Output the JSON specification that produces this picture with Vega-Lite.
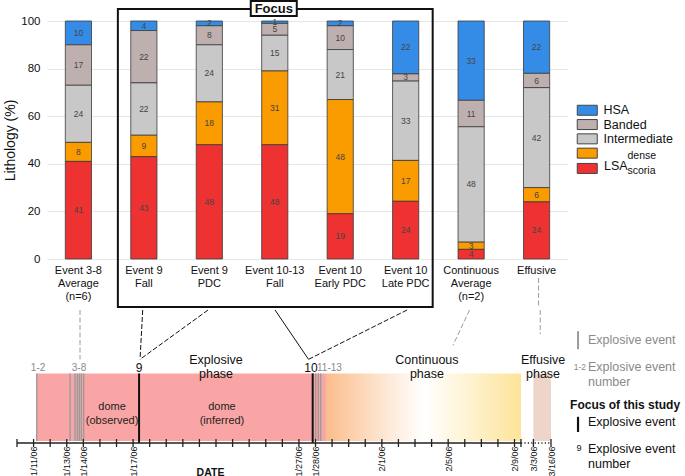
{
  "$schema": "https://vega.github.io/schema/vega-lite/v6.json",
  "background": "white",
  "padding": {"left": 3, "top": 0, "right": 0, "bottom": 0},
  "spacing": 0,
  "config": {"font": "Liberation Sans", "view": {"stroke": null}},
  "datasets": {
    "litho": [
      {"event": "Event 3-8|Average|(n=6)", "type": "HSA", "value": 10},
      {"event": "Event 3-8|Average|(n=6)", "type": "Banded", "value": 17},
      {"event": "Event 3-8|Average|(n=6)", "type": "Intermediate", "value": 24},
      {"event": "Event 3-8|Average|(n=6)", "type": "LSA dense", "value": 8},
      {"event": "Event 3-8|Average|(n=6)", "type": "LSA scoria", "value": 41},
      {"event": "Event 9|Fall", "type": "HSA", "value": 4},
      {"event": "Event 9|Fall", "type": "Banded", "value": 22},
      {"event": "Event 9|Fall", "type": "Intermediate", "value": 22},
      {"event": "Event 9|Fall", "type": "LSA dense", "value": 9},
      {"event": "Event 9|Fall", "type": "LSA scoria", "value": 43},
      {"event": "Event 9|PDC", "type": "HSA", "value": 2},
      {"event": "Event 9|PDC", "type": "Banded", "value": 8},
      {"event": "Event 9|PDC", "type": "Intermediate", "value": 24},
      {"event": "Event 9|PDC", "type": "LSA dense", "value": 18},
      {"event": "Event 9|PDC", "type": "LSA scoria", "value": 48},
      {"event": "Event 10-13|Fall", "type": "HSA", "value": 1},
      {"event": "Event 10-13|Fall", "type": "Banded", "value": 5},
      {"event": "Event 10-13|Fall", "type": "Intermediate", "value": 15},
      {"event": "Event 10-13|Fall", "type": "LSA dense", "value": 31},
      {"event": "Event 10-13|Fall", "type": "LSA scoria", "value": 48},
      {"event": "Event 10|Early PDC", "type": "HSA", "value": 2},
      {"event": "Event 10|Early PDC", "type": "Banded", "value": 10},
      {"event": "Event 10|Early PDC", "type": "Intermediate", "value": 21},
      {"event": "Event 10|Early PDC", "type": "LSA dense", "value": 48},
      {"event": "Event 10|Early PDC", "type": "LSA scoria", "value": 19},
      {"event": "Event 10|Late PDC", "type": "HSA", "value": 22},
      {"event": "Event 10|Late PDC", "type": "Banded", "value": 3},
      {"event": "Event 10|Late PDC", "type": "Intermediate", "value": 33},
      {"event": "Event 10|Late PDC", "type": "LSA dense", "value": 17},
      {"event": "Event 10|Late PDC", "type": "LSA scoria", "value": 24},
      {"event": "Continuous|Average|(n=2)", "type": "HSA", "value": 33},
      {"event": "Continuous|Average|(n=2)", "type": "Banded", "value": 11},
      {"event": "Continuous|Average|(n=2)", "type": "Intermediate", "value": 48},
      {"event": "Continuous|Average|(n=2)", "type": "LSA dense", "value": 3},
      {"event": "Continuous|Average|(n=2)", "type": "LSA scoria", "value": 4},
      {"event": "Effusive", "type": "HSA", "value": 22},
      {"event": "Effusive", "type": "Banded", "value": 6},
      {"event": "Effusive", "type": "Intermediate", "value": 42},
      {"event": "Effusive", "type": "LSA dense", "value": 6},
      {"event": "Effusive", "type": "LSA scoria", "value": 24}
    ]
  },
  "vconcat": [
    {
      "width": 521,
      "height": 238,
      "layer": [
        {
          "data": {"name": "litho"},
          "transform": [
            {"calculate": "indexof(['LSA scoria','LSA dense','Intermediate','Banded','HSA'], datum.type)", "as": "rank"},
            {"stack": "value", "groupby": ["event"], "sort": [{"field": "rank", "order": "ascending"}], "as": ["v0", "v1"], "offset": "normalize"},
            {"calculate": "(datum.v0 + datum.v1) / 2", "as": "vm"}
          ],
          "layer": [
            {
              "mark": {"type": "bar", "stroke": "#3a3a3a", "strokeWidth": 0.8},
              "encoding": {
                "x": {
                  "field": "event", "type": "nominal",
                  "scale": {"domain": ["Event 3-8|Average|(n=6)", "Event 9|Fall", "Event 9|PDC", "Event 10-13|Fall", "Event 10|Early PDC", "Event 10|Late PDC", "Continuous|Average|(n=2)", "Effusive"], "paddingInner": 0.6, "paddingOuter": 0.28},
                  "axis": {"title": null, "labelAngle": 0, "labelAlign": "center", "labelBaseline": "top", "labelExpr": "split(datum.label, '|')", "labelFontSize": 11, "labelLineHeight": 13, "labelPadding": 5, "labelColor": "#111111", "domain": false, "ticks": false, "grid": false, "labelOverlap": false}
                },
                "y": {
                  "field": "v0", "type": "quantitative",
                  "scale": {"domain": [0, 1], "nice": false, "zero": false},
                  "axis": {"title": "Lithology (%)", "titleFontSize": 14, "titleFontWeight": "normal", "titleColor": "#111111", "titlePadding": 3, "values": [0, 0.1, 0.2, 0.3, 0.4, 0.5, 0.6, 0.7, 0.8, 0.9, 1], "labelExpr": "round(datum.value * 100)", "labelFontSize": 11.5, "labelColor": "#111111", "labelPadding": 7, "labelOverlap": false, "labelFlush": false, "domain": false, "ticks": false, "grid": true, "gridColor": "#e6e6e6"}
                },
                "y2": {"field": "v1"},
                "color": {
                  "field": "type", "type": "nominal",
                  "scale": {"domain": ["HSA", "Banded", "Intermediate", "LSA dense", "LSA scoria"], "range": ["#358ce6", "#bfb0b0", "#c8c8c8", "#fa9b00", "#ee3232"]},
                  "legend": {
                    "orient": "none", "legendX": 534, "legendY": 83, "padding": 0,
                    "title": "LSA", "titleOrient": "bottom", "titleAnchor": "start", "titleAlign": "left", "titleFontSize": 12.5, "titleFontWeight": "normal", "titleColor": "#111111", "titlePadding": -17,
                    "labelFontSize": 12.5, "labelColor": "#111111", "labelOffset": 10,
                    "labelExpr": "datum.value === 'LSA dense' ? 'dense' : datum.value === 'LSA scoria' ? 'scoria' : datum.label",
                    "symbolType": "M-2,-1H2V1H-2Z", "symbolSize": 100, "symbolStrokeColor": "#444444", "symbolStrokeWidth": 1, "symbolOpacity": 1,
                    "rowPadding": -0.7,
                    "encode": {
                      "labels": {"update": {
                        "fontSize": {"signal": "datum.value === 'LSA dense' || datum.value === 'LSA scoria' ? 10.5 : 12.5"},
                        "dx": {"signal": "datum.value === 'LSA dense' || datum.value === 'LSA scoria' ? 24 : 0"},
                        "dy": {"signal": "datum.value === 'LSA dense' || datum.value === 'LSA scoria' ? 3 : 0"}
                      }},
                      "title": {"update": {"dx": {"value": 23}}}
                    }
                  }
                }
              }
            },
            {
              "mark": {"type": "text", "fontSize": 8.5, "color": "#444444"},
              "encoding": {
                "x": {"field": "event", "type": "nominal", "scale": {"domain": ["Event 3-8|Average|(n=6)", "Event 9|Fall", "Event 9|PDC", "Event 10-13|Fall", "Event 10|Early PDC", "Event 10|Late PDC", "Continuous|Average|(n=2)", "Effusive"], "paddingInner": 0.6, "paddingOuter": 0.28}},
                "y": {"field": "vm", "type": "quantitative", "scale": {"domain": [0, 1], "nice": false, "zero": false}},
                "text": {"field": "value", "type": "quantitative"}
              }
            }
          ]
        },
        {
          "data": {"values": [{"first": "Event 9|Fall", "last": "Event 10|Late PDC", "top": 1.0504, "bottom": -0.2017}]},
          "mark": {"type": "rect", "fill": "transparent", "stroke": "#111111", "strokeWidth": 2, "xOffset": -26, "x2Offset": 27},
          "encoding": {
            "x": {"field": "first", "type": "nominal", "bandPosition": 0.5, "scale": {"domain": ["Event 3-8|Average|(n=6)", "Event 9|Fall", "Event 9|PDC", "Event 10-13|Fall", "Event 10|Early PDC", "Event 10|Late PDC", "Continuous|Average|(n=2)", "Effusive"], "paddingInner": 0.6, "paddingOuter": 0.28}},
            "x2": {"field": "last"},
            "y": {"field": "top", "type": "quantitative", "scale": {"domain": [0, 1], "nice": false, "zero": false}},
            "y2": {"field": "bottom"}
          }
        },
        {
          "data": {"values": [{"at": "Event 10-13|Fall", "top": 1.084, "bottom": 1.021, "label": "Focus", "mid": 1.0525}]},
          "layer": [
            {
              "mark": {"type": "rect", "fill": "white", "stroke": "#111111", "strokeWidth": 2, "xOffset": -24, "x2Offset": 22},
              "encoding": {
                "x": {"field": "at", "type": "nominal", "bandPosition": 0.5, "scale": {"domain": ["Event 3-8|Average|(n=6)", "Event 9|Fall", "Event 9|PDC", "Event 10-13|Fall", "Event 10|Early PDC", "Event 10|Late PDC", "Continuous|Average|(n=2)", "Effusive"], "paddingInner": 0.6, "paddingOuter": 0.28}},
                "x2": {"field": "at"},
                "y": {"field": "top", "type": "quantitative", "scale": {"domain": [0, 1], "nice": false, "zero": false}},
                "y2": {"field": "bottom"}
              }
            },
            {
              "mark": {"type": "text", "fontSize": 13, "fontWeight": "bold", "color": "#111111", "xOffset": -1},
              "encoding": {
                "x": {"field": "at", "type": "nominal", "scale": {"domain": ["Event 3-8|Average|(n=6)", "Event 9|Fall", "Event 9|PDC", "Event 10-13|Fall", "Event 10|Early PDC", "Event 10|Late PDC", "Continuous|Average|(n=2)", "Effusive"], "paddingInner": 0.6, "paddingOuter": 0.28}},
                "y": {"field": "mid", "type": "quantitative", "scale": {"domain": [0, 1], "nice": false, "zero": false}},
                "text": {"field": "label"}
              }
            }
          ]
        },
        {
          "data": {"values": [{"at": "Effusive", "top": -0.0798, "bottom": -0.2017}]},
          "mark": {"type": "rule", "stroke": "#9a9a9a", "strokeWidth": 1, "strokeDash": [5, 2.5], "xOffset": 2},
          "encoding": {
            "x": {"field": "at", "type": "nominal", "scale": {"domain": ["Event 3-8|Average|(n=6)", "Event 9|Fall", "Event 9|PDC", "Event 10-13|Fall", "Event 10|Early PDC", "Event 10|Late PDC", "Continuous|Average|(n=2)", "Effusive"], "paddingInner": 0.6, "paddingOuter": 0.28}},
            "y": {"field": "top", "type": "quantitative", "scale": {"domain": [0, 1], "nice": false, "zero": false}},
            "y2": {"field": "bottom"}
          }
        }
      ]
    },
    {
      "width": 504,
      "height": 133,
      "encoding": {
        "x": {
          "field": "day", "type": "quantitative",
          "scale": {"domain": [10, 42.2], "range": [-30, 504], "nice": false, "zero": false},
          "axis": {
            "title": "DATE", "titleFontSize": 10.5, "titleFontWeight": "bold", "titleColor": "#111111", "titleX": 163, "titleY": 29, "titleBaseline": "middle",
            "values": [11, 13, 14, 17, 27, 28, 32, 36, 40, 41.14, 42.2],
            "labelExpr": "datum.value < 12 ? '1/11/06' : datum.value < 13.5 ? '1/13/06' : datum.value < 15 ? '1/14/06' : datum.value < 20 ? '1/17/06' : datum.value < 27.5 ? '1/27/06' : datum.value < 30 ? '1/28/06' : datum.value < 34 ? '2/1/06' : datum.value < 38 ? '2/5/06' : datum.value < 40.5 ? '2/9/06' : datum.value < 42 ? '3/3/06' : '3/16/06'",
            "labelAngle": -90, "labelFontSize": 9, "labelColor": "#111111", "labelPadding": 3, "labelOverlap": false, "labelFlush": false, "labelBound": false,
            "ticks": false, "domain": false, "grid": false
          }
        },
        "y": {"field": "level", "type": "quantitative", "scale": {"domain": [0, 100], "nice": false, "zero": false}, "axis": null}
      },
      "layer": [
        {
          "data": {"values": [{"phase": "Explosive", "day": 11.19, "day2": 28.63, "level": 1.5, "level2": 52.3}]},
          "mark": {"type": "rect", "fill": "#faa5a5"},
          "encoding": {"x2": {"field": "day2"}, "y2": {"field": "level2"}}
        },
        {
          "data": {"values": [{"phase": "Continuous", "day": 28.63, "day2": 40.39, "level": 1.5, "level2": 52.3}]},
          "mark": {"type": "rect", "fill": {"gradient": "linear", "x1": 0, "y1": 0, "x2": 1, "y2": 0, "stops": [{"offset": 0, "color": "#fbbd8b"}, {"offset": 0.25, "color": "#fde0c8"}, {"offset": 0.5, "color": "#ffffff"}, {"offset": 1, "color": "#fde49a"}]}},
          "encoding": {"x2": {"field": "day2"}, "y2": {"field": "level2"}}
        },
        {
          "data": {"values": [{"phase": "Effusive", "day": 41.14, "day2": 42.2, "level": 1.5, "level2": 52.3}]},
          "mark": {"type": "rect", "fill": "#edd5c9"},
          "encoding": {"x2": {"field": "day2"}, "y2": {"field": "level2"}}
        },
        {
          "data": {"values": [
            {"day": 11.19, "level": 1.5, "level2": 52.3},
            {"day": 13.2, "level": 1.5, "level2": 52.3},
            {"day": 13.5, "level": 1.5, "level2": 52.3},
            {"day": 13.64, "level": 1.5, "level2": 52.3},
            {"day": 13.76, "level": 1.5, "level2": 52.3},
            {"day": 13.88, "level": 1.5, "level2": 52.3},
            {"day": 14.02, "level": 1.5, "level2": 52.3},
            {"day": 28.01, "level": 1.5, "level2": 52.3},
            {"day": 28.17, "level": 1.5, "level2": 52.3},
            {"day": 28.31, "level": 1.5, "level2": 52.3}
          ]},
          "mark": {"type": "rule", "stroke": "#9b9b9b", "strokeWidth": 1.4},
          "encoding": {"y2": {"field": "level2"}}
        },
        {
          "data": {"values": [
            {"day": 17.36, "level": 0, "level2": 52.3},
            {"day": 27.83, "level": 0, "level2": 52.3}
          ]},
          "mark": {"type": "rule", "stroke": "#111111", "strokeWidth": 2},
          "encoding": {"y2": {"field": "level2"}}
        },
        {
          "data": {"values": [{"day": 10, "day2": 40.39, "level": 0}]},
          "mark": {"type": "rule", "stroke": "#222222", "strokeWidth": 1.3},
          "encoding": {"x2": {"field": "day2"}}
        },
        {
          "data": {"values": [{"day": 40.39, "day2": 42.2, "level": 0}]},
          "mark": {"type": "rule", "stroke": "#222222", "strokeWidth": 1.3, "strokeDash": [1.2, 2.2]},
          "encoding": {"x2": {"field": "day2"}}
        },
        {
          "data": {"values": [
            {"day": 10}, {"day": 11}, {"day": 12}, {"day": 13}, {"day": 14}, {"day": 15}, {"day": 16}, {"day": 17}, {"day": 18}, {"day": 19},
            {"day": 20}, {"day": 21}, {"day": 22}, {"day": 23}, {"day": 24}, {"day": 25}, {"day": 26}, {"day": 27}, {"day": 28}, {"day": 29},
            {"day": 30}, {"day": 31}, {"day": 32}, {"day": 33}, {"day": 34}, {"day": 35}, {"day": 36}, {"day": 37}, {"day": 38}, {"day": 39},
            {"day": 40}, {"day": 40.39}, {"day": 41.14}, {"day": 42.2}
          ]},
          "transform": [{"calculate": "-3", "as": "level"}, {"calculate": "3", "as": "level2"}],
          "mark": {"type": "rule", "stroke": "#222222", "strokeWidth": 1.3},
          "encoding": {"y2": {"field": "level2"}}
        },
        {
          "data": {"values": [
            {"label": "1-2", "day": 11.27, "level": 56.1},
            {"label": "3-8", "day": 13.74, "level": 56.1},
            {"label": "11-13", "day": 28.84, "level": 56.1}
          ]},
          "mark": {"type": "text", "fontSize": 10, "color": "#8a8a8a"},
          "encoding": {"text": {"field": "label"}}
        },
        {
          "data": {"values": [
            {"label": "9", "day": 17.36, "level": 56.1},
            {"label": "10", "day": 27.73, "level": 56.1}
          ]},
          "mark": {"type": "text", "fontSize": 12, "color": "#111111"},
          "encoding": {"text": {"field": "label"}}
        },
        {
          "data": {"values": [
            {"label": "Explosive\nphase", "day": 22.0, "level": 62.5},
            {"label": "Continuous\nphase", "day": 34.72, "level": 62.5},
            {"label": "Effusive\nphase", "day": 41.72, "level": 62.5}
          ]},
          "mark": {"type": "text", "fontSize": 12.5, "color": "#111111", "lineBreak": "\n", "lineHeight": 14.5},
          "encoding": {"text": {"field": "label"}}
        },
        {
          "data": {"values": [
            {"label": "dome\n(observed)", "day": 15.73, "level": 26.7},
            {"label": "dome\n(inferred)", "day": 22.36, "level": 26.7}
          ]},
          "mark": {"type": "text", "fontSize": 11, "color": "#222222", "lineBreak": "\n", "lineHeight": 14},
          "encoding": {"text": {"field": "label"}}
        },
        {
          "data": {"values": [
            {"link": "Event 9 Fall", "day": 17.58, "level": 100, "day2": 17.42, "level2": 62.9},
            {"link": "Event 9 PDC", "day": 21.52, "level": 100, "day2": 17.42, "level2": 62.9},
            {"link": "Event 10 Late PDC", "day": 33.52, "level": 100, "day2": 27.58, "level2": 62.9}
          ]},
          "mark": {"type": "rule", "stroke": "#111111", "strokeWidth": 1, "strokeDash": [5, 2]},
          "encoding": {"x2": {"field": "day2"}, "y2": {"field": "level2"}}
        },
        {
          "data": {"values": [
            {"link": "Event 10-13 Fall", "day": 25.56, "level": 100, "day2": 27.58, "level2": 62.9}
          ]},
          "mark": {"type": "rule", "stroke": "#111111", "strokeWidth": 1},
          "encoding": {"x2": {"field": "day2"}, "y2": {"field": "level2"}}
        },
        {
          "data": {"values": [
            {"link": "Event 3-8 Average", "day": 13.8, "level": 100, "day2": 13.8, "level2": 62.9},
            {"link": "Continuous Average", "day": 37.29, "level": 100, "day2": 36.29, "level2": 73.5},
            {"link": "Effusive", "day": 41.55, "level": 100, "day2": 41.55, "level2": 81.8}
          ]},
          "mark": {"type": "rule", "stroke": "#9a9a9a", "strokeWidth": 1, "strokeDash": [5, 2.5]},
          "encoding": {"x2": {"field": "day2"}, "y2": {"field": "level2"}}
        },
        {
          "data": {"values": [{"key": "explosive event", "day": 43.83, "level": 70.5, "level2": 84.1}]},
          "mark": {"type": "rule", "stroke": "#9b9b9b", "strokeWidth": 2},
          "encoding": {"y2": {"field": "level2"}}
        },
        {
          "data": {"values": [{"key": "focus explosive event", "day": 43.83, "level": 8.3, "level2": 19.7}]},
          "mark": {"type": "rule", "stroke": "#111111", "strokeWidth": 2.2},
          "encoding": {"y2": {"field": "level2"}}
        },
        {
          "data": {"values": [
            {"label": "Explosive event", "day": 44.43, "level": 77.3},
            {"label": "Explosive event\nnumber", "day": 44.43, "level": 57.2}
          ]},
          "mark": {"type": "text", "fontSize": 12.5, "color": "#8a8a8a", "align": "left", "lineBreak": "\n", "lineHeight": 15},
          "encoding": {"text": {"field": "label"}}
        },
        {
          "data": {"values": [{"label": "1-2", "day": 44.31, "level": 57.5}]},
          "mark": {"type": "text", "fontSize": 8.5, "color": "#8a8a8a", "align": "right"},
          "encoding": {"text": {"field": "label"}}
        },
        {
          "data": {"values": [{"label": "Focus of this study", "day": 43.35, "level": 28.8}]},
          "mark": {"type": "text", "fontSize": 12, "fontWeight": "bold", "color": "#111111", "align": "left"},
          "encoding": {"text": {"field": "label"}}
        },
        {
          "data": {"values": [
            {"label": "Explosive event", "day": 44.43, "level": 15.9},
            {"label": "Explosive event\nnumber", "day": 44.43, "level": -4.2}
          ]},
          "mark": {"type": "text", "fontSize": 12.5, "color": "#111111", "align": "left", "lineBreak": "\n", "lineHeight": 15},
          "encoding": {"text": {"field": "label"}}
        },
        {
          "data": {"values": [{"label": "9", "day": 43.89, "level": -3.8}]},
          "mark": {"type": "text", "fontSize": 9, "color": "#111111"},
          "encoding": {"text": {"field": "label"}}
        }
      ]
    }
  ]
}
